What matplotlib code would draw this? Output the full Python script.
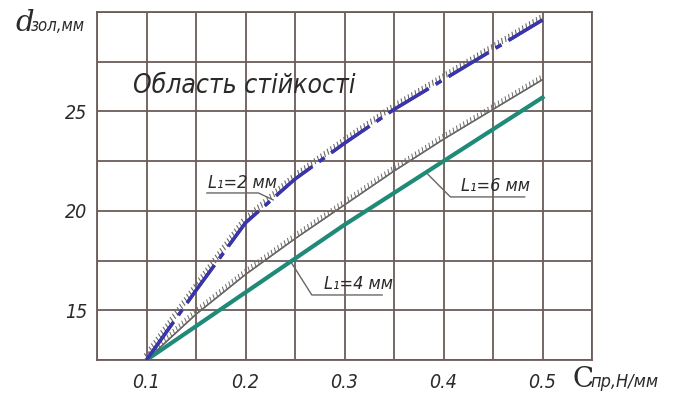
"""
Recreation of the d_зол vs C_пр stability chart.
"""

import matplotlib
matplotlib.use("Agg")
import matplotlib.pyplot as plt
import matplotlib.patheffects as pe
import numpy as np

# ── Data ──────────────────────────────────────────────────────────────────────
c_pr = [0.10, 0.15, 0.20, 0.25, 0.30, 0.35, 0.40, 0.45, 0.50]
d_l2 = [12.5, 16.0, 19.4, 21.6, 23.4, 25.1, 26.6, 28.1, 29.6]
d_l4 = [12.5, 14.8, 16.8, 18.6, 20.3, 22.0, 23.6, 25.1, 26.6]
d_l6 = [12.5, 14.2, 15.9, 17.6, 19.3, 20.9, 22.5, 24.1, 25.7]

x_ticks = [0.1, 0.2, 0.3, 0.4, 0.5]
y_ticks = [15, 20, 25]

GRID = "#6b5c58"
BLUE = "#3a35a8"
TEAL = "#1f8a78"
GREY = "#6a6666"
TXT = "#2a2a2a"

FONT = dict(family="DejaVu Sans", style="italic", stretch="condensed", color=TXT)

fig = plt.figure(figsize=(6.76, 3.95), dpi=100)
ax = fig.add_axes([97 / 676, 35 / 395, 495 / 676, 348 / 395])

ax.set_xlim(0.05, 0.55)
ax.set_ylim(12.5, 30)

# grid every 0.05 / 2.5
ax.set_xticks(np.arange(0.05, 0.551, 0.05), minor=True)
ax.set_yticks(np.arange(12.5, 30.01, 2.5), minor=True)
ax.set_xticks(x_ticks)
ax.set_yticks(y_ticks)
ax.grid(which="both", color=GRID, lw=1.3)
ax.set_xticklabels([f"{v:.1f}" for v in x_ticks], **FONT, fontsize=14)
ax.set_yticklabels([str(v) for v in y_ticks], **FONT, fontsize=14)
ax.tick_params(which="both", length=0, pad=7)
ax.tick_params(axis="x", pad=9)
for s in ax.spines.values():
    s.set_color(GRID)
    s.set_linewidth(1.3)

# curves (hatching marks on the upper side)
ax.plot(c_pr, d_l4, color=GREY, lw=1.0, zorder=3,
        path_effects=[pe.withTickedStroke(angle=70, spacing=2.9, length=1.2,
                                          linewidth=0.7, foreground=GREY),
                      pe.Normal()])
ax.plot(c_pr, d_l6, color=TEAL, lw=3.0, zorder=3)
ax.plot(c_pr, d_l2, color=BLUE, lw=2.4, zorder=4, dashes=(14, 2.5, 2, 2.5),
        path_effects=[pe.withTickedStroke(angle=70, spacing=2.9, length=1.5,
                                          linewidth=0.8, foreground=GREY)])
ax.plot(c_pr, d_l2, color=BLUE, lw=2.4, zorder=5, dashes=(14, 2.5, 2, 2.5))

# region label
ax.text(0.086, 26.3, "Область стійкості", fontsize=19, ha="left", va="center", **FONT)

# curve labels with leader lines
def label(text, tx, ty, line):
    ax.text(tx, ty, text, fontsize=13, ha="left", va="bottom", **FONT)
    xs, ys = zip(*line)
    ax.plot(xs, ys, color=GREY, lw=1.0, zorder=2)

label("L₁=2 мм", 0.162, 20.95, [(0.161, 20.9), (0.213, 20.9), (0.228, 20.55)])
label("L₁=4 мм", 0.279, 15.85, [(0.245, 17.5), (0.267, 15.77), (0.338, 15.77)])
label("L₁=6 мм", 0.418, 20.8, [(0.383, 21.9), (0.407, 20.7), (0.482, 20.7)])

# axis titles
fig.text(15 / 676, 1 - 31 / 395, "d", fontsize=21, family="DejaVu Serif",
         style="italic", color=TXT, ha="left", va="baseline")
fig.text(31 / 676, 1 - 31 / 395, "зол,мм", fontsize=12, ha="left",
         va="baseline", **FONT)
fig.text(572 / 676, 1 - 387 / 395, "C", fontsize=20, family="DejaVu Serif",
         color=TXT, ha="left", va="baseline")
fig.text(590 / 676, 1 - 387 / 395, "пр,Н/мм", fontsize=13, ha="left",
         va="baseline", **FONT)

fig.savefig("out.png", dpi=100)
